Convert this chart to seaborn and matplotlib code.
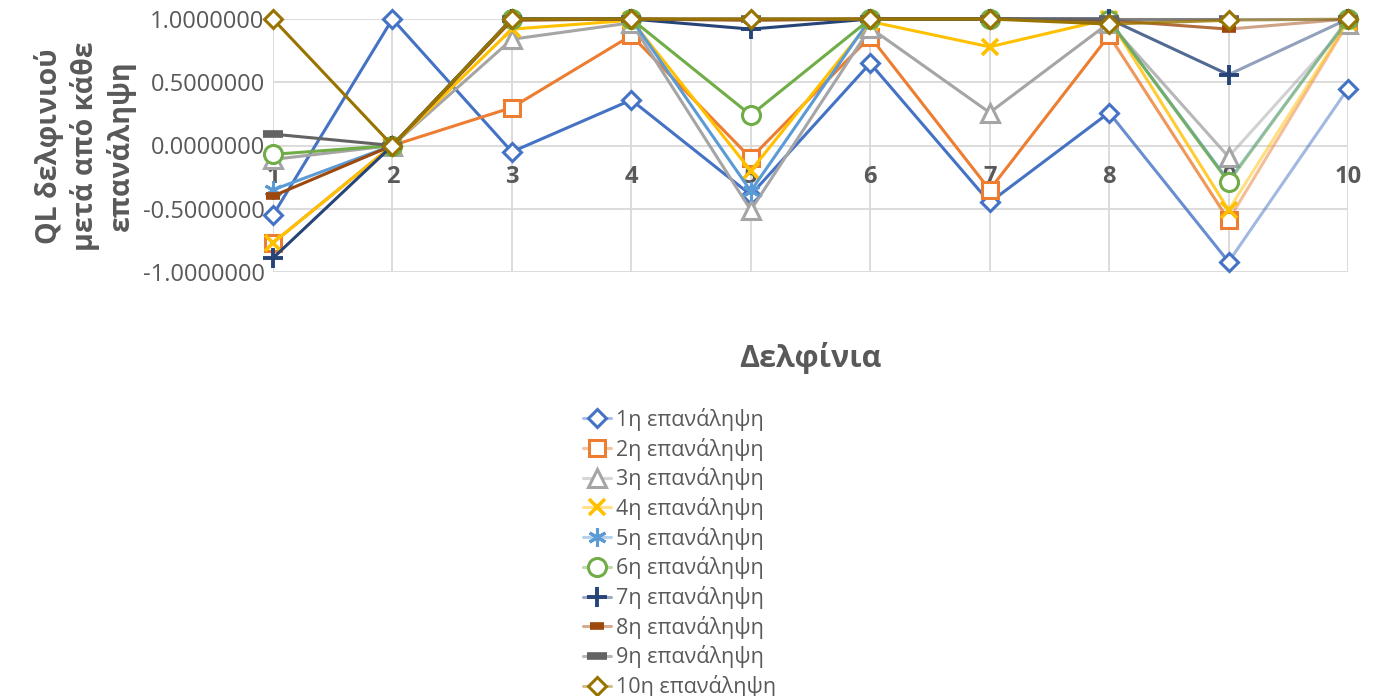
import matplotlib
matplotlib.use("Agg")
import matplotlib.pyplot as plt
from matplotlib.lines import Line2D
from matplotlib.colors import to_rgba
import seaborn as sns
import pandas as pd

# Categories (dolphins) and Q-value of each dolphin after every iteration
dolphins = [1, 2, 3, 4, 5, 6, 7, 8, 9, 10]
iterations = ["1η επανάληψη", "2η επανάληψη", "3η επανάληψη", "4η επανάληψη",
              "5η επανάληψη", "6η επανάληψη", "7η επανάληψη", "8η επανάληψη",
              "9η επανάληψη", "10η επανάληψη"]

it1 = [-0.55, 1.00, -0.05, 0.36, -0.39, 0.65, -0.45, 0.26, -0.92, 0.45]
it2 = [-0.77, 0.00, 0.30, 0.87, -0.10, 0.86, -0.35, 0.87, -0.59, 0.97]
it3 = [-0.11, 0.00, 0.84, 0.97, -0.51, 0.93, 0.26, 0.97, -0.09, 0.96]
it4 = [-0.77, 0.00, 0.92, 0.99, -0.20, 0.98, 0.78, 1.00, -0.51, 0.98]
it5 = [-0.35, 0.00, 1.00, 1.00, -0.36, 1.00, 1.00, 0.99, -0.28, 1.00]
it6 = [-0.07, 0.00, 1.00, 1.00, 0.24, 1.00, 1.00, 0.99, -0.29, 1.00]
it7 = [-0.89, 0.00, 1.00, 1.00, 0.92, 1.00, 1.00, 1.00, 0.56, 1.00]
it8 = [-0.40, 0.00, 0.99, 1.00, 0.99, 1.00, 1.00, 0.99, 0.92, 1.00]
it9 = [0.09, 0.00, 1.00, 1.00, 1.00, 1.00, 1.00, 1.00, 1.00, 1.00]
it10 = [1.00, 0.00, 1.00, 1.00, 1.00, 1.00, 1.00, 0.96, 0.99, 1.00]
values = [it1, it2, it3, it4, it5, it6, it7, it8, it9, it10]

yticks = [-1.0, -0.5, 0.0, 0.5, 1.0]

colors = ["#4472C4", "#ED7D31", "#A5A5A5", "#FFC000", "#5B9BD5",
          "#70AD47", "#264478", "#9E480E", "#636363", "#997300"]
# marker, size, edge width, hollow?
marker_styles = [
    ("D", 9.5, 2.2, True),
    ("s", 12, 2.2, True),
    ("^", 13, 2.2, True),
    ("x", 12, 2.6, False),
    ((6, 2, 0), 13, 2.2, False),
    ("o", 13, 2.2, True),
    ("+", 14, 2.8, False),
    ("_", 10, 5.5, False),
    ("_", 15, 5.5, False),
    ("D", 9.5, 2.2, True),
]

df = pd.DataFrame({
    "dolphin": [d for _ in iterations for d in dolphins],
    "series": [s for s in iterations for _ in dolphins],
    "value": [v for row in values for v in row],
})

sns.set_style("white")
plt.rcParams["font.family"] = ["Open Sans", "DejaVu Sans"]
text_gray = "#595959"
grid_gray = "#D9D9D9"

fig = plt.figure(figsize=(13.8, 6.96), dpi=100)
ax = fig.add_axes([273 / 1380, 1 - 272 / 696, 1075 / 1380, 253 / 696])

lw = 2.2
for i, name in enumerate(iterations):
    sub = df[df["series"] == name]
    c = colors[i]
    m, ms, mew, hollow = marker_styles[i]
    z = 3 + i
    common = dict(x="dolphin", y="value", ax=ax, color=c, lw=lw, estimator=None,
                  errorbar=None, sort=False, legend=False, clip_on=False)
    # the line fades slightly over the last two segments
    sns.lineplot(data=sub[sub["dolphin"] <= 8], zorder=z, **common)
    sns.lineplot(data=sub[(sub["dolphin"] >= 8) & (sub["dolphin"] <= 9)],
                 alpha=0.8, zorder=z, **common)
    sns.lineplot(data=sub[sub["dolphin"] >= 9], alpha=0.5, zorder=z, **common)
    sns.lineplot(data=sub, x="dolphin", y="value", ax=ax, estimator=None,
                 errorbar=None, sort=False, legend=False, clip_on=False,
                 linestyle="", marker=m, markersize=ms, markeredgewidth=mew,
                 markeredgecolor=c, markerfacecolor="white" if hollow else c,
                 color=c, zorder=z + 0.5)

ax.set_xlim(1, 10)
ax.set_ylim(-1, 1)
ax.set_xticks(dolphins)
ax.set_xticklabels([str(d) for d in dolphins])
ax.set_yticks(yticks)
ax.set_yticklabels([f"{t:.7f}" for t in yticks])

ax.grid(True, color=grid_gray, lw=1.3)
ax.set_axisbelow(True)
for sp in ax.spines.values():
    sp.set_visible(False)
# category labels sit along the zero line
ax.spines["bottom"].set_position(("data", 0))
ax.tick_params(axis="x", length=0, pad=14, labelsize=17, labelcolor=text_gray)
ax.tick_params(axis="y", length=0, pad=6, labelsize=17, labelcolor=text_gray)
for lab in ax.get_xticklabels():
    lab.set_fontweight("bold")

ax.set_xlabel("Δελφίνια", fontsize=22, fontweight="bold", color=text_gray,
              va="center")
ax.xaxis.set_label_coords(0.5, (272 - 358) / 253)
ax.set_ylabel("QL δελφινιού\nμετά από κάθε\nεπανάληψη", fontsize=20.5,
              fontweight="bold", color=text_gray, linespacing=1.25,
              rotation=90, rotation_mode="default", va="center", ha="center",
              multialignment="center")
ax.yaxis.set_label_coords((85 - 273) / 1075, (272 - 146) / 253)

handles = []
for i, name in enumerate(iterations):
    c = colors[i]
    m, ms, mew, hollow = marker_styles[i]
    handles.append(Line2D([0], [0], color=to_rgba(c, 0.45), lw=lw, marker=m,
                          markersize=ms, markeredgewidth=mew, markeredgecolor=c,
                          markerfacecolor="white" if hollow else c))
fig.legend(handles, iterations, loc="upper left",
           bbox_to_anchor=(583 / 1380, 1 - 408 / 696), frameon=False,
           fontsize=15.5, labelcolor=text_gray, handlelength=1.3,
           handletextpad=0.25, labelspacing=0.31, borderpad=0,
           borderaxespad=0)

fig.savefig("out.png", dpi=100)
